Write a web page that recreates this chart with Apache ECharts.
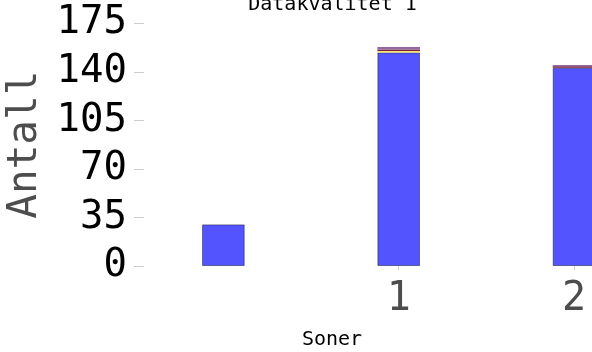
<!DOCTYPE html>
<html>
<head>
<meta charset="utf-8">
<script src="https://cdn.jsdelivr.net/npm/echarts@6/dist/echarts.min.js"></script>
<style>
  html, body { margin: 0; padding: 0; background: #fff; }
  #chart { width: 592px; height: 352px; }
</style>
</head>
<body>
<div id="chart"></div>
<script>
// Zones on the x axis (the first one has no label)
const categories = ['', '1', '2'];

// Stacked counts per zone
const seriesNames = ['A', 'B', 'C', 'D'];
const valuesA = [30, 154, 143];
const valuesB = [0, 1, 0];
const valuesC = [0, 1, 1];
const valuesD = [0, 2, 1];

// Y axis ticks
const yTicks = [0, 35, 70, 105, 140, 175];

const titleText = 'Datakvalitet 1';
const xName = 'Soner';
const yName = 'Antall';

const MONO = '"DejaVu Sans Mono", monospace';
const colors = ['#5454ff', '#f6e46c', '#7a1e3a', '#94689c'];
const allValues = [valuesA, valuesB, valuesC, valuesD];

const chart = echarts.init(document.getElementById('chart'), null, { renderer: 'canvas' });

const series = seriesNames.map((name, i) => ({
  name: name,
  type: 'bar',
  stack: 'total',
  barWidth: '24.3%',
  data: allValues[i],
  itemStyle: {
    color: colors[i],
    borderColor: 'rgba(30,30,70,0.55)',
    borderWidth: i === 0 ? 1 : 0
  }
}));

chart.setOption({
  animation: false,
  grid: {
    left: 135.7, top: 23.3, bottom: 86, width: 526,
    containLabel: false,
    outerBoundsMode: 'none'
  },
  xAxis: {
    type: 'category',
    data: categories,
    axisLine: { show: false },
    axisTick: {
      show: true,
      alignWithLabel: true,
      length: 4,
      interval: (idx, val) => val !== '',
      lineStyle: { color: '#cccccc' }
    },
    axisLabel: {
      fontFamily: MONO,
      fontSize: 40,
      color: '#4d4d4d',
      margin: 14
    }
  },
  yAxis: {
    type: 'value',
    min: yTicks[0],
    max: yTicks[yTicks.length - 1],
    interval: yTicks[1] - yTicks[0],
    offset: -8.3,
    name: yName,
    nameLocation: 'middle',
    nameGap: 95,
    nameTextStyle: { fontFamily: MONO, fontSize: 41, color: '#4d4d4d' },
    axisLine: { show: false },
    axisTick: { show: true, length: 10, lineStyle: { color: '#cccccc' } },
    splitLine: { show: false },
    axisLabel: {
      fontFamily: MONO,
      fontSize: 39,
      color: '#000000',
      margin: 17
    }
  },
  graphic: [
    {
      type: 'text',
      x: 332.5,
      y: 15,
      style: {
        text: titleText,
        font: '20px ' + MONO,
        fill: '#000000',
        align: 'center',
        verticalAlign: 'bottom'
      }
    },
    {
      type: 'text',
      x: 332,
      y: 340,
      style: {
        text: xName,
        font: '20px ' + MONO,
        fill: '#000000',
        align: 'center',
        verticalAlign: 'middle'
      }
    }
  ],
  series: series
});
</script>
</body>
</html>
